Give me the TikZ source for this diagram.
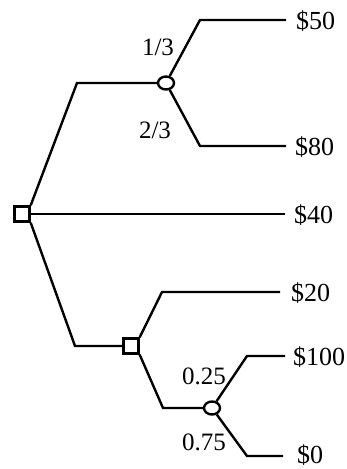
\documentclass[tikz,border=0pt]{standalone}
\usepackage{fontspec}
\setmainfont{Liberation Serif}
\usetikzlibrary{shapes.geometric}
\begin{document}
\begin{tikzpicture}[x=1pt,y=1pt,
  br/.style={line width=2.4pt},
  decbox/.style={draw, line width=2.4pt, fill=white, minimum size=15pt, inner sep=0pt},
  chance/.style={draw, ellipse, line width=2.4pt, fill=white, minimum width=16pt, minimum height=13pt, inner sep=0pt},
  leaf/.style={anchor=base west, inner sep=0pt, font=\fontsize{26}{30}\selectfont},
  prob/.style={inner sep=0pt, font=\fontsize{25}{29}\selectfont}]
\useasboundingbox (0,0) rectangle (346,-469);
% nodes
\node[decbox] (d1) at (22,-214) {};
\node[chance] (c1) at (166,-83) {};
\node[decbox] (d2) at (131,-346) {};
\node[chance] (c2) at (212,-408) {};
\coordinate (a1) at (77,-83);
\coordinate (b1) at (200,-20);
\coordinate (b2) at (200,-146);
\coordinate (a2) at (75,-346);
\coordinate (e1) at (162,-292);
\coordinate (e2) at (163,-408);
\coordinate (f1) at (247,-356);
\coordinate (f2) at (247,-456);
\node[leaf] (v50) at (296,-29) {\$50};
\node[leaf] (v80) at (295,-155) {\$80};
\node[leaf] (v40) at (294,-223) {\$40};
\node[leaf] (v20) at (291,-301) {\$20};
\node[leaf] (v100) at (293,-365) {\$100};
\node[leaf] (v0) at (297,-463) {\$0};
\node[prob] (p13) at (158,-47) {1/3};
\node[prob] (p23) at (155,-130) {2/3};
\node[prob] (p25) at (204,-376) {0.25};
\node[prob] (p75) at (204,-442) {0.75};
% branches
\draw[br] (d1.north east) -- (a1) -- (c1);
\draw[br] (c1) -- (b1) -- ([xshift=-10pt]v50.west |- b1);
\draw[br] (c1) -- (b2) -- ([xshift=-9pt]v80.west |- b2);
\draw[br] (d1.east) -- ([xshift=-9pt]v40.west |- d1.east);
\draw[br] (d1.south east) -- (a2) -- (d2.west);
\draw[br] (d2.north east) -- (e1) -- ([xshift=-11pt]v20.west |- e1);
\draw[br] (d2.south east) -- (e2) -- (c2);
\draw[br] (c2) -- (f1) -- ([xshift=-8pt]v100.west |- f1);
\draw[br] (c2) -- (f2) -- ([xshift=-14pt]v0.west |- f2);
\end{tikzpicture}
\end{document}
